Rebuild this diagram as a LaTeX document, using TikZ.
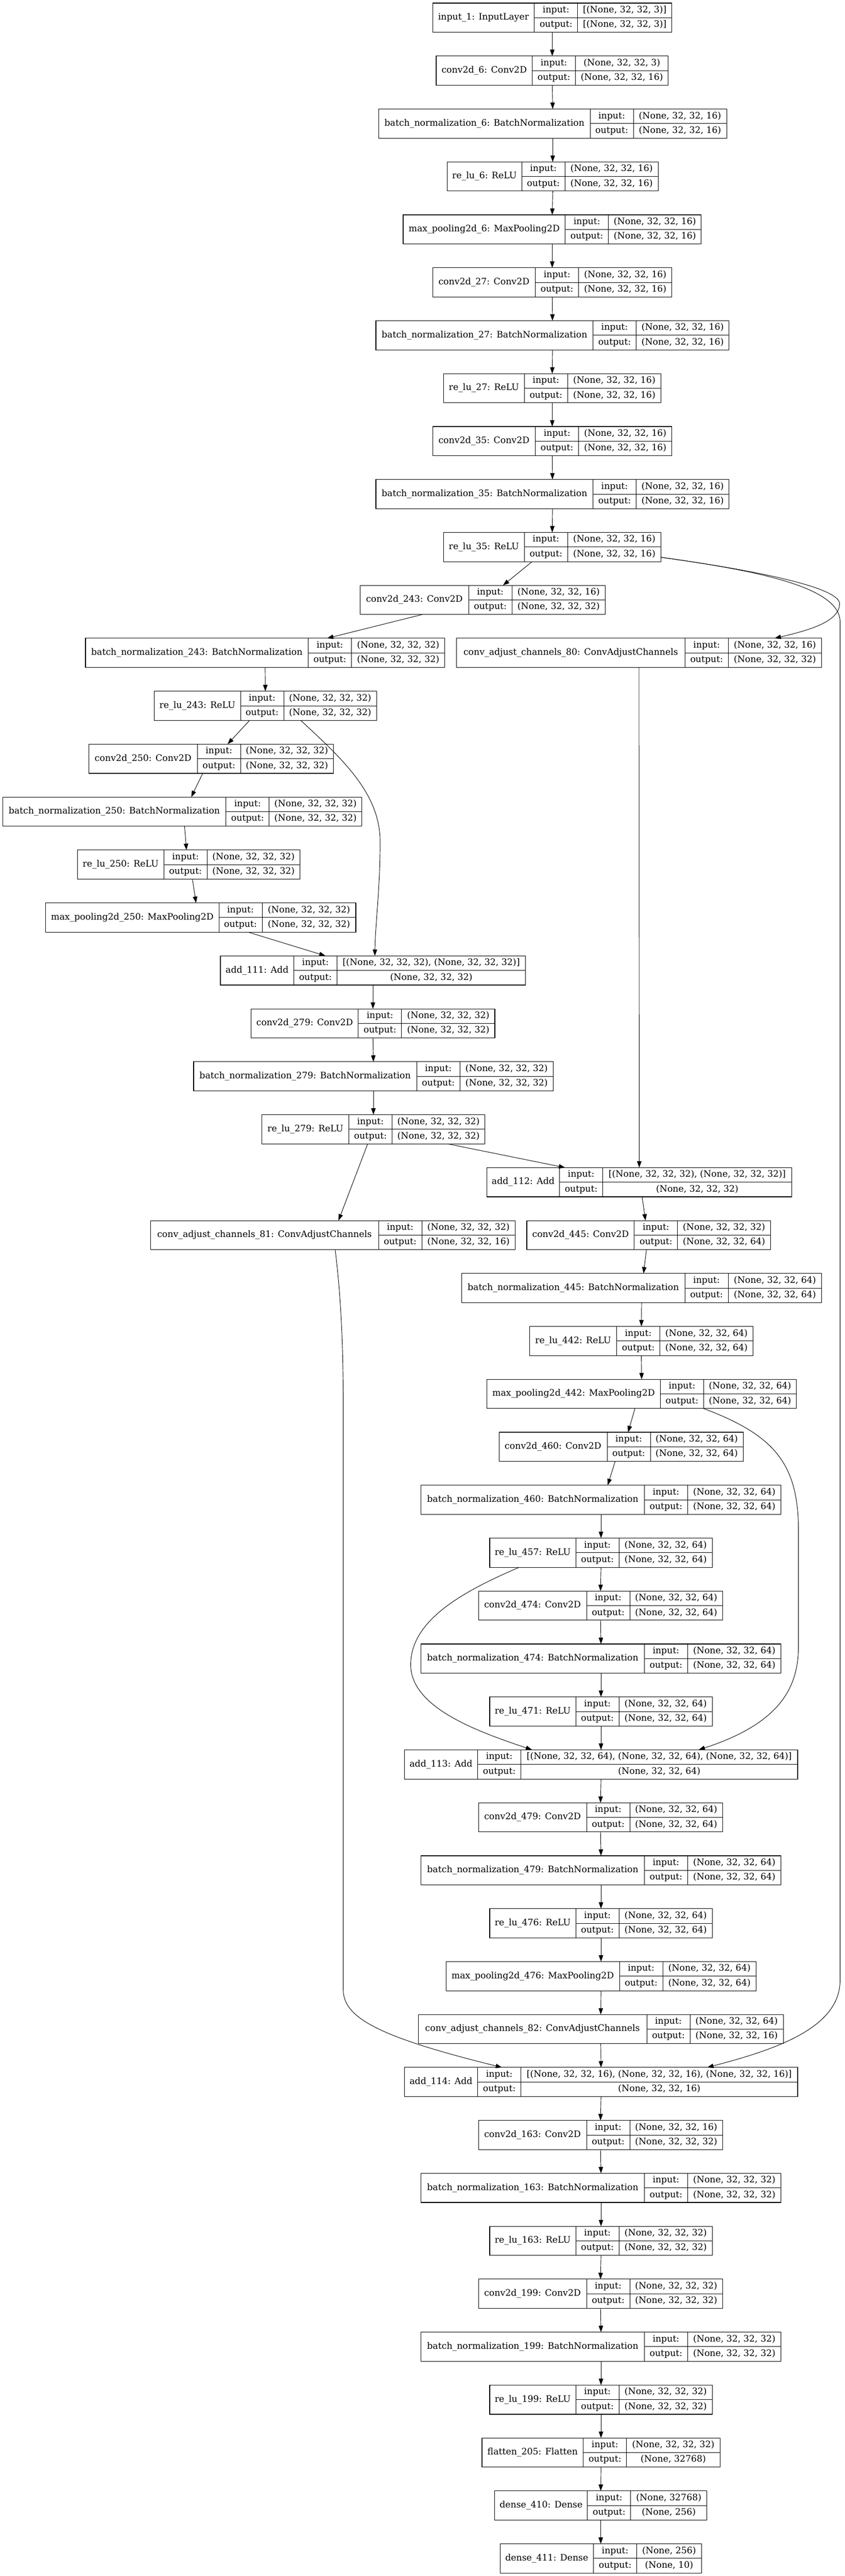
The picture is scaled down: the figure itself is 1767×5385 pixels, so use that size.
\documentclass[tikz,border=0pt]{standalone}
\usepackage{fontspec}
\setmainfont{DejaVu Serif}
\usetikzlibrary{arrows.meta,calc}
\tikzset{
  lbox/.style={draw, line width=0.9pt, inner sep=0pt, outer sep=0pt, minimum height=61*0.75pt},
  cell/.style={line width=0.75pt},
  txt/.style={inner sep=0pt, font=\fontsize{14}{16}\selectfont, text height=10pt, text depth=3pt},
  edge/.style={draw, line width=0.75pt, -{Triangle[length=10pt,width=7pt]}}
}
\newcommand{\klayer}[8]{%
  \node[lbox, minimum width={(#4+90.5+#5)*0.75pt}] (#1) at (#2,{37+110.65*#3}) {};
  \draw[cell] ($(#1.north west)+({#4},0)$) -- ($(#1.south west)+({#4},0)$);
  \draw[cell] ($(#1.north west)+({#4+90.5},0)$) -- ($(#1.south west)+({#4+90.5},0)$);
  \draw[cell] ($(#1.west)+({#4},0)$) -- (#1.east);
  \node[txt] at ($(#1.west)+({#4/2},0)$) {#6};
  \node[txt] at ($(#1.north west)+({#4+45.25},15.25)$) {input:};
  \node[txt] at ($(#1.south west)+({#4+45.25},-15.25)$) {output:};
  \node[txt] at ($(#1.north west)+({#4+90.5+#5/2},15.25)$) {#7};
  \node[txt] at ($(#1.south west)+({#4+90.5+#5/2},-15.25)$) {#8};
}
\begin{document}
\begin{tikzpicture}[x=0.75pt,y=-0.75pt]
\fill[white] (0,0) rectangle (1767,5385);
\def\sa{(None, 32, 32, 16)}
\def\sb{(None, 32, 32, 32)}
\def\sc{(None, 32, 32, 64)}
\klayer{in1}{1155}{0}{213}{197}{input\_1: InputLayer}{[(None, 32, 32, 3)]}{[(None, 32, 32, 3)]}
\klayer{c6}{1155}{1}{201}{194}{conv2d\_6: Conv2D}{(None, 32, 32, 3)}{\sa}
\klayer{bn6}{1156}{2}{442}{195}{batch\_normalization\_6: BatchNormalization}{\sa}{\sa}
\klayer{r6}{1156}{3}{156}{195}{re\_lu\_6: ReLU}{\sa}{\sa}
\klayer{mp6}{1155}{4}{339}{194}{max\_pooling2d\_6: MaxPooling2D}{\sa}{\sa}
\klayer{c27}{1155}{5}{215}{195}{conv2d\_27: Conv2D}{\sa}{\sa}
\klayer{bn27}{1155.5}{6}{454}{194}{batch\_normalization\_27: BatchNormalization}{\sa}{\sa}
\klayer{r27}{1155}{7}{169}{195}{re\_lu\_27: ReLU}{\sa}{\sa}
\klayer{c35}{1155}{8}{215}{195}{conv2d\_35: Conv2D}{\sa}{\sa}
\klayer{bn35}{1155.5}{9}{454}{194}{batch\_normalization\_35: BatchNormalization}{\sa}{\sa}
\klayer{r35}{1155}{10}{169}{195}{re\_lu\_35: ReLU}{\sa}{\sa}
\klayer{c243}{1009.5}{11}{227}{195}{conv2d\_243: Conv2D}{\sa}{\sb}
\klayer{bn243}{554.5}{12}{466}{195}{batch\_normalization\_243: BatchNormalization}{\sb}{\sb}
\klayer{ca80}{1336.5}{12}{478}{195}{conv\_adjust\_channels\_80: ConvAdjustChannels}{\sa}{\sb}
\klayer{r243}{555}{13}{180.5}{194}{re\_lu\_243: ReLU}{\sb}{\sb}
\klayer{c250}{441.5}{14}{227}{194}{conv2d\_250: Conv2D}{\sb}{\sb}
\klayer{bn250}{381.3}{15}{467}{194}{batch\_normalization\_250: BatchNormalization}{\sb}{\sb}
\klayer{r250}{394.5}{16}{181}{194}{re\_lu\_250: ReLU}{\sb}{\sb}
\klayer{mp250}{420}{17}{362}{196}{max\_pooling2d\_250: MaxPooling2D}{\sb}{\sb}
\klayer{add111}{780}{18}{153.5}{394}{add\_111: Add}{[(None, 32, 32, 32), (None, 32, 32, 32)]}{\sb}
\klayer{c279}{780}{19}{224.5}{195}{conv2d\_279: Conv2D}{\sb}{\sb}
\klayer{bn279}{781}{20}{466.6}{195}{batch\_normalization\_279: BatchNormalization}{\sb}{\sb}
\klayer{r279}{781}{21}{181.6}{194}{re\_lu\_279: ReLU}{\sb}{\sb}
\klayer{add112}{1337}{22}{152}{395}{add\_112: Add}{[(None, 32, 32, 32), (None, 32, 32, 32)]}{\sb}
\klayer{ca81}{696}{23}{477}{195}{conv\_adjust\_channels\_81: ConvAdjustChannels}{\sb}{\sa}
\klayer{c445}{1356.5}{23}{225}{194}{conv2d\_445: Conv2D}{\sb}{\sc}
\klayer{bn445}{1342}{24}{467}{195.5}{batch\_normalization\_445: BatchNormalization}{\sc}{\sc}
\klayer{r442}{1341.5}{25}{182}{195}{re\_lu\_442: ReLU}{\sc}{\sc}
\klayer{mp442}{1342}{26}{363}{194}{max\_pooling2d\_442: MaxPooling2D}{\sc}{\sc}
\klayer{c460}{1299}{27}{226}{194}{conv2d\_460: Conv2D}{\sc}{\sc}
\klayer{bn460}{1257}{28}{467}{195}{batch\_normalization\_460: BatchNormalization}{\sc}{\sc}
\klayer{r457}{1257}{29}{180}{195}{re\_lu\_457: ReLU}{\sc}{\sc}
\klayer{c474}{1256}{30}{226}{194}{conv2d\_474: Conv2D}{\sc}{\sc}
\klayer{bn474}{1257}{31}{467}{195}{batch\_normalization\_474: BatchNormalization}{\sc}{\sc}
\klayer{r471}{1257}{32}{180}{195}{re\_lu\_471: ReLU}{\sc}{\sc}
\klayer{add113}{1257}{33}{153.3}{578.7}{add\_113: Add}{[(None, 32, 32, 64), (None, 32, 32, 64), (None, 32, 32, 64)]}{\sc}
\klayer{c479}{1256}{34}{226}{194}{conv2d\_479: Conv2D}{\sc}{\sc}
\klayer{bn479}{1257}{35}{467}{195}{batch\_normalization\_479: BatchNormalization}{\sc}{\sc}
\klayer{r476}{1257}{36}{180}{195}{re\_lu\_476: ReLU}{\sc}{\sc}
\klayer{mp476}{1257}{37}{363}{195}{max\_pooling2d\_476: MaxPooling2D}{\sc}{\sc}
\klayer{ca82}{1256.5}{38}{478}{195}{conv\_adjust\_channels\_82: ConvAdjustChannels}{\sc}{\sa}
\klayer{add114}{1257}{39}{153.3}{578.7}{add\_114: Add}{[(None, 32, 32, 16), (None, 32, 32, 16), (None, 32, 32, 16)]}{\sa}
\klayer{c163}{1256}{40}{226}{194}{conv2d\_163: Conv2D}{\sa}{\sb}
\klayer{bn163}{1257}{41}{467}{195}{batch\_normalization\_163: BatchNormalization}{\sb}{\sb}
\klayer{r163}{1257}{42}{180}{195}{re\_lu\_163: ReLU}{\sb}{\sb}
\klayer{c199}{1256}{43}{226}{194}{conv2d\_199: Conv2D}{\sb}{\sb}
\klayer{bn199}{1257}{44}{467}{195}{batch\_normalization\_199: BatchNormalization}{\sb}{\sb}
\klayer{r199}{1257}{45}{180}{195}{re\_lu\_199: ReLU}{\sb}{\sb}
\klayer{fl205}{1257}{46}{212}{195.4}{flatten\_205: Flatten}{\sb}{(None, 32768)}
\klayer{d410}{1256.5}{47}{194}{159}{dense\_410: Dense}{(None, 32768)}{(None, 256)}
\klayer{d411}{1256.5}{48}{195.5}{135.3}{dense\_411: Dense}{(None, 256)}{(None, 10)}
% straight vertical connectors
\foreach \a/\b in {in1/c6,c6/bn6,bn6/r6,r6/mp6,mp6/c27,c27/bn27,bn27/r27,r27/c35,c35/bn35,bn35/r35,
  bn243/r243,add111/c279,c279/bn279,bn279/r279,ca80/add112,bn445/r442,r442/mp442,
  bn460/r457,r457/c474,c474/bn474,bn474/r471,r471/add113,add113/c479,c479/bn479,bn479/r476,
  r476/mp476,mp476/ca82,ca82/add114,add114/c163,c163/bn163,bn163/r163,r163/c199,c199/bn199,
  bn199/r199,r199/fl205,fl205/d410,d410/d411}
  \draw[edge] (\a.south) -- (\b.north);
% slanted connectors
\draw[edge] ($(r35.south)+(-42,0)$) -- ($(c243.north)+(42.5,0)$);
\draw[edge] ($(c243.south)+(-126.5,0)$) -- ($(bn243.north)+(129.5,0)$);
\draw[edge] ($(r243.south)+(-33,0)$) -- ($(c250.north)+(34.5,0)$);
\draw[edge] ($(c250.south)+(-17.5,0)$) -- ($(bn250.north)+(18.7,0)$);
\draw[edge] ($(bn250.south)+(4.7,0)$) -- ($(r250.north)+(-4.5,0)$);
\draw[edge] ($(r250.south)+(8,0)$) -- ($(mp250.north)+(-10,0)$);
\draw[edge] ($(mp250.south)+(99,0)$) -- ($(add111.north)+(-99,0)$);
\draw[edge] ($(r279.south)+(155,0)$) -- ($(add112.north)+(-155,0)$);
\draw[edge] ($(r279.south)+(-12,0)$) -- ($(ca81.north)+(12,0)$);
\draw[edge] ($(add112.south)+(6,0)$) -- ($(c445.north)+(-6.5,0)$);
\draw[edge] ($(c445.south)+(-4.5,0)$) -- ($(bn445.north)+(4,0)$);
\draw[edge] ($(mp442.south)+(-14,0)$) -- ($(c460.north)+(14.6,0)$);
\draw[edge] ($(c460.south)+(-12.4,0)$) -- ($(bn460.north)+(14,0)$);
% curved connectors
\draw[edge] ($(r243.south)+(74,0)$) .. controls (720,1590) and (795,1660) .. (795,1760)
  .. controls (795,1860) and (785,1930) .. ($(add111.north)+(4,0)$);
\draw[edge] ($(r35.south east)+(0,-9)$) .. controls (1600,1195) and (1756,1230) .. (1756,1262)
  .. controls (1756,1300) and (1690,1318) .. ($(ca80.north)+(283.5,0)$);
\draw[edge] ($(r35.south east)+(0,-9)$) .. controls (1600,1195) and (1757,1230) .. (1757,1300)
  -- (1757,4140) .. controls (1757,4240) and (1620,4285) .. ($(add114.north)+(222,0)$);
\draw[edge] ($(ca81.south)+(5,0)$) .. controls (712,2700) and (718,2800) .. (718,2950)
  -- (718,4160) .. controls (718,4220) and (800,4260) .. ($(add114.north)+(-207,0)$);
\draw[edge] ($(mp442.south)+(129.5,0)$) .. controls (1620,3000) and (1670,3060) .. (1670,3200)
  -- (1670,3440) .. controls (1670,3520) and (1640,3600) .. ($(add113.north)+(204,0)$);
\draw[edge] ($(r457.south)+(-171,0)$) .. controls (960,3330) and (859,3390) .. (859,3480)
  .. controls (859,3570) and (1000,3620) .. ($(add113.north)+(-144,0)$);
\end{tikzpicture}
\end{document}
